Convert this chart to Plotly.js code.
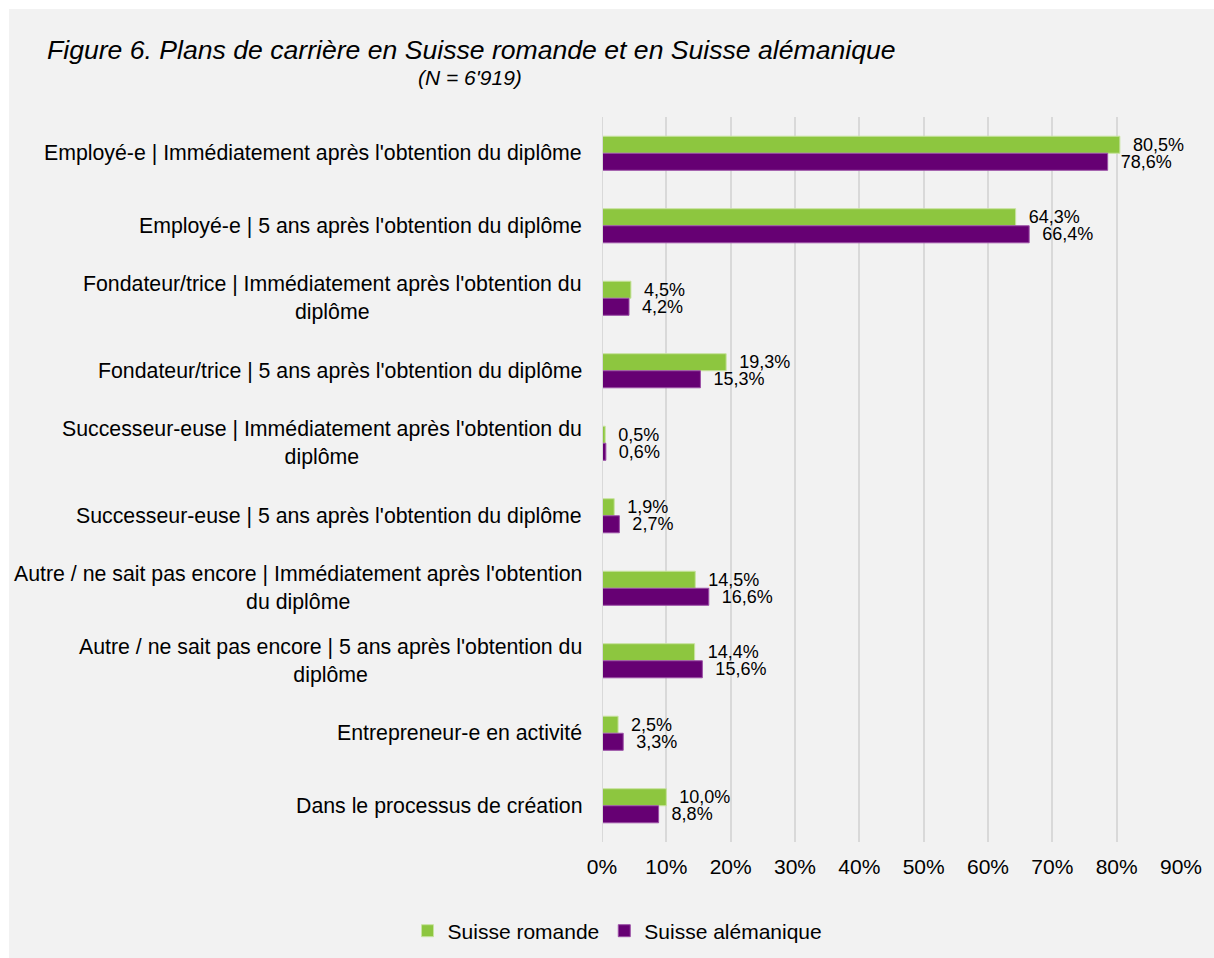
<!DOCTYPE html>
<html>
<head>
<meta charset="utf-8">
<script src="https://cdn.plot.ly/plotly-3.0.1.min.js"></script>
<style>
html,body{margin:0;padding:0;background:#ffffff;}
#chart{position:absolute;left:9px;top:9px;width:1205px;height:949px;}
</style>
</head>
<body>
<div id="chart"></div>
<script>
var categories = [
  "Employé-e | Immédiatement après l'obtention du diplôme",
  "Employé-e | 5 ans après l'obtention du diplôme",
  "Fondateur/trice | Immédiatement après l'obtention du<br>diplôme",
  "Fondateur/trice | 5 ans après l'obtention du diplôme",
  "Successeur-euse | Immédiatement après l'obtention du<br>diplôme",
  "Successeur-euse | 5 ans après l'obtention du diplôme",
  "Autre / ne sait pas encore | Immédiatement après l'obtention<br>du diplôme",
  "Autre / ne sait pas encore | 5 ans après l'obtention du<br>diplôme",
  "Entrepreneur-e en activité",
  "Dans le processus de création"
];
var romande = [80.5, 64.3, 4.5, 19.3, 0.5, 1.9, 14.5, 14.4, 2.5, 10.0];
var alemanique = [78.6, 66.4, 4.2, 15.3, 0.6, 2.7, 16.6, 15.6, 3.3, 8.8];
var xTicks = [0, 10, 20, 30, 40, 50, 60, 70, 80, 90];

function fmt(v){ return '\u00a0\u00a0' + v.toFixed(1).replace('.', ',') + '%'; }

var FONT = 'Liberation Sans, Arial, sans-serif';

var traces = [
  {
    type: 'bar', orientation: 'h', name: 'Suisse romande',
    y: categories, x: romande,
    text: romande.map(fmt), textposition: 'outside', cliponaxis: false,
    constraintext: 'none',
    textfont: {family: FONT, size: 18, color: '#000'},
    marker: {color: '#8dc63f', line: {color: '#c8e3a0', width: 1}}
  },
  {
    type: 'bar', orientation: 'h', name: 'Suisse alémanique',
    y: categories, x: alemanique,
    text: alemanique.map(fmt), textposition: 'outside', cliponaxis: false,
    constraintext: 'none',
    textfont: {family: FONT, size: 18, color: '#000'},
    marker: {color: '#660073', line: {color: '#9b4fa6', width: 1}}
  }
];

var annotations = categories.map(function(c){
  return {
    xref: 'paper', yref: 'y', x: 0, y: c, xanchor: 'right', yanchor: 'middle',
    xshift: -18, text: c, showarrow: false, align: 'center',
    font: {family: FONT, size: 21.3, color: '#000'}
  };
});
annotations.push({
  xref: 'paper', yref: 'paper', x: (45 - 602) / 579, y: (842 - 50) / 725,
  xanchor: 'left', yanchor: 'middle', showarrow: false,
  text: '<i>Figure 6. Plans de carrière en Suisse romande et en Suisse alémanique</i>',
  font: {family: FONT, size: 26.6, color: '#000'}
});
annotations.push({
  xref: 'paper', yref: 'paper', x: (470 - 602) / 579, y: (842 - 78) / 725,
  xanchor: 'center', yanchor: 'middle', showarrow: false,
  text: "<i>(N = 6'919)</i>",
  font: {family: FONT, size: 21, color: '#000'}
});

var layout = {
  width: 1205, height: 949,
  paper_bgcolor: '#f2f2f2', plot_bgcolor: '#f2f2f2',
  margin: {l: 593, r: 33, t: 108, b: 116},
  barmode: 'group', bargap: 0.53, bargroupgap: 0,
  font: {family: FONT, color: '#000'},
  xaxis: {
    range: [0, 90], tickvals: xTicks, ticktext: xTicks.map(function(t){return t + '%';}),
    showgrid: true, gridcolor: '#d9d9d9', gridwidth: 2,
    zeroline: false, showline: false,
    ticks: 'outside', ticklen: 6, tickcolor: 'rgba(0,0,0,0)',
    tickfont: {family: FONT, size: 21, color: '#000'}, fixedrange: true
  },
  yaxis: {
    autorange: 'reversed', showticklabels: false, showgrid: false,
    zeroline: false, showline: false, ticks: '', fixedrange: true
  },
  shapes: [{
    type: 'line', xref: 'x', yref: 'paper', x0: 0, x1: 0, y0: 0, y1: 1,
    line: {color: '#d9d9d9', width: 2}
  }],
  showlegend: true,
  legend: {
    orientation: 'h', xref: 'container', yref: 'container',
    x: 0.505, xanchor: 'center', y: 0.05, yanchor: 'top',
    font: {family: FONT, size: 21, color: '#000'},
    bgcolor: 'rgba(0,0,0,0)', itemwidth: 30, traceorder: 'normal'
  },
  annotations: annotations
};

Plotly.newPlot('chart', traces, layout, {displayModeBar: false, staticPlot: true});
</script>
</body>
</html>
